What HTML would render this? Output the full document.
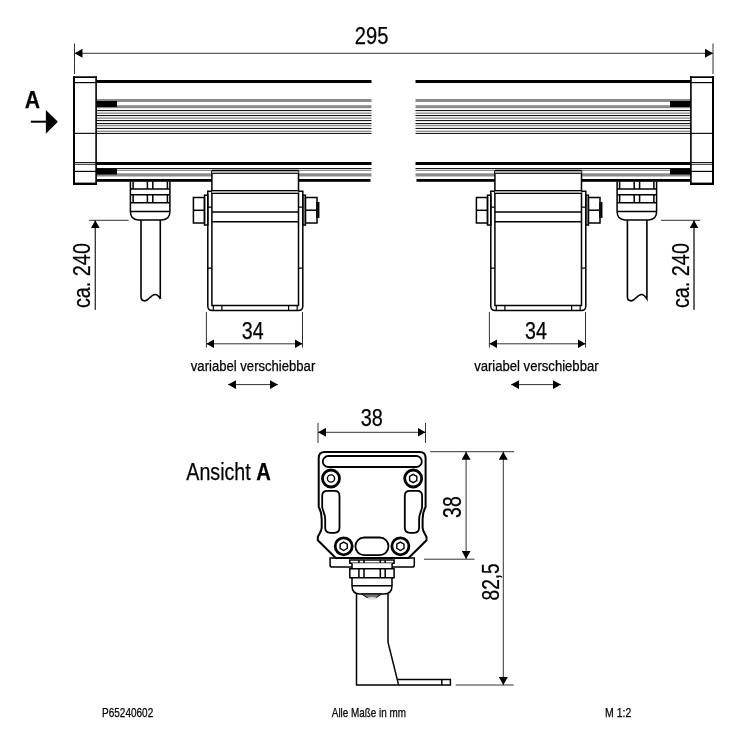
<!DOCTYPE html>
<html><head><meta charset="utf-8">
<style>
html,body{margin:0;padding:0;background:#fff;}
svg{display:block;will-change:transform;}
text{font-family:"Liberation Sans",sans-serif;fill:#000;stroke:#000;stroke-width:0.25px;}
</style></head>
<body>
<svg width="737" height="737" viewBox="0 0 737 737">
<defs>
<g id="halfrail">
  <!-- rail left half -->
  <rect x="96" y="80" width="275.5" height="3" fill="#000"/>
  <rect x="96" y="99" width="275.5" height="3" fill="#8a8a8a"/>
  <rect x="96" y="105.2" width="275.5" height="3" fill="#8a8a8a"/>
  <g fill="#1a1a1a">
    <rect x="96" y="110" width="275.5" height="1.1"/>
    <rect x="96" y="115" width="275.5" height="1.1"/>
    <rect x="96" y="120" width="275.5" height="1.1"/>
    <rect x="96" y="123" width="275.5" height="1.1"/>
    <rect x="96" y="127.9" width="275.5" height="1.1"/>
    <rect x="96" y="132.9" width="275.5" height="1.1"/>
  </g>
  <g fill="#8f8f8f">
    <rect x="96" y="112.5" width="275.5" height="1.4"/>
    <rect x="96" y="117.5" width="275.5" height="1.4"/>
    <rect x="96" y="124.9" width="275.5" height="1.4"/>
    <rect x="96" y="130.6" width="275.5" height="1.4"/>
  </g>
  <rect x="96" y="162" width="275.5" height="3" fill="#000"/>
  <rect x="96" y="168" width="275.5" height="1.1" fill="#1a1a1a"/>
  <rect x="96" y="169.9" width="275.5" height="1.1" fill="#8f8f8f"/>
  <rect x="96" y="173.3" width="275.5" height="3.2" fill="#8a8a8a"/>
  <rect x="96" y="179" width="274.5" height="2.8" fill="#000"/>
  <rect x="96" y="101" width="21" height="6" fill="#000"/>
  <rect x="96" y="168.5" width="21" height="6" fill="#000"/>
  <!-- endcap -->
  <g fill="#000">
    <rect x="73" y="76.3" width="2" height="108.7"/>
    <rect x="73" y="76.3" width="24" height="1.7"/>
    <rect x="95.3" y="76.3" width="1.6" height="108.7"/>
    <rect x="73" y="182.6" width="24" height="2.4"/>
    <rect x="73" y="82" width="24" height="1.2"/>
    <rect x="73" y="132.8" width="24" height="1.1"/>
    <rect x="73" y="162" width="24" height="0.9"/>
    <rect x="73" y="163.8" width="24" height="0.9"/>
    <rect x="73" y="170.8" width="24" height="1.2"/>
  </g>
  <!-- cable gland -->
  <g fill="none" stroke="#000" stroke-width="1.5">
    <path d="M130.4,181.5 V211.6 Q130.4,219.9 138.4,219.9 H161.9 Q169.9,219.9 169.9,211.6 V181.5"/>
    <path d="M133.1,181.5 V188.9 M133.1,194.7 V202.8 M167.4,181.5 V188.9 M167.4,194.7 V202.8 M147.4,181.5 V188.9 M152.8,181.5 V188.9 M147.4,194.7 V202.8 M152.8,194.7 V202.8"/>
    <path d="M130.4,188.9 H169.9 M130.4,194.7 H169.9 M130.4,202.8 H169.9 M130.4,211.6 H169.9"/>
  </g>
</g>
<g id="bracket" fill="none" stroke="#000" stroke-width="1.5">
  <rect x="193.4" y="197.5" width="11.1" height="25.5"/>
  <path d="M193.4,210.3 H204.5"/>
  <rect x="204.5" y="195.2" width="3.3" height="29.8"/>
  <rect x="302.8" y="195.2" width="2.6" height="29.8"/>
  <rect x="305.4" y="197.5" width="11.6" height="25.5"/>
  <path d="M305.4,210.2 H317"/>
  <rect x="317" y="202.7" width="1.7" height="14.5"/>
  <rect x="211.9" y="170.6" width="86.6" height="20" fill="#fff" stroke="none"/>
  <path d="M211.9,170.6 H298.5 M211.9,170.6 V305.6 H298.5 V170.6"/>
  <path d="M211.9,173.4 H298.5" stroke-width="1.1"/>
  <rect x="212" y="171.2" width="86.5" height="2" fill="#aaa" stroke="none"/>
  <path d="M211.9,190.5 H298.5 M211.9,193.4 H298.5" stroke-width="1.1"/>
  <rect x="212" y="191" width="86.5" height="2" fill="#aaa" stroke="none"/>
  <path d="M211.9,211.9 H298.5 M211.9,221.7 H298.5"/>
  <path d="M211.9,191.3 H207.8 V306 Q207.8,310.6 212.4,310.6 H298.2 Q302.8,310.6 302.8,306 V191.3 H298.5"/>
  <path d="M207.8,207.2 H211.9 M207.8,268.2 H211.9 M298.5,207.2 H302.8 M298.5,268.2 H302.8 M221.9,305.6 V310.8 M288.6,305.6 V310.8 M213.3,305.6 V310.8 M297.2,305.6 V310.8" stroke-width="1.2"/>
</g>
<marker id="ah" viewBox="0 0 8 9" refX="8" refY="4.5" markerWidth="8" markerHeight="9" orient="auto-start-reverse" markerUnits="userSpaceOnUse">
  <path d="M0,0 L8,4.5 L0,9 Z" fill="#000"/>
</marker>
</defs>

<!-- overall dim 295 -->
<g stroke="#333" stroke-width="1" fill="none">
  <path d="M74.5,43.5 V74 M713,43.5 V74"/>
  <path d="M74.5,53.3 H713" marker-start="url(#ah)" marker-end="url(#ah)"/>
</g>
<text x="371.58" y="43.86" font-size="23.94" text-anchor="middle" textLength="33.58" lengthAdjust="spacingAndGlyphs">295</text>

<!-- arrow A -->
<text x="24.67" y="107.7" font-size="24.2" font-weight="bold" textLength="15.31" lengthAdjust="spacingAndGlyphs">A</text>
<rect x="30.9" y="120.7" width="15.5" height="2" fill="#000"/>
<path d="M45.9,110.1 L57.9,121.8 L45.9,133.7 Z" fill="#000"/>

<use href="#halfrail"/>
<use href="#halfrail" transform="translate(787,0) scale(-1,1)"/>

<!-- cables -->
<g fill="none" stroke="#000" stroke-width="1.6">
  <path d="M141,219.9 V296.5 Q141,300.9 145,300.9 C148.6,300.7 151.1,294.5 155,294.5 C157.6,294.5 159.1,296.5 160.3,298.8 V219.9"/>
  <path d="M627.4,219.9 V296.5 Q627.4,300.9 631.4,300.9 C635,300.7 637.5,294.5 641.4,294.5 C644,294.5 645.5,296.5 646.9,298.8 V219.9"/>
</g>

<!-- ca. 240 dims -->
<g stroke="#333" stroke-width="1" fill="none">
  <path d="M89,220.3 H128.5 M95.3,220.3 V309.8" />
  <path d="M95.3,309.8 V220.3" marker-end="url(#ah)"/>
  <path d="M661,220.3 H700 M694,220.3 V309.8"/>
  <path d="M694,309.8 V220.3" marker-end="url(#ah)"/>
</g>
<text transform="translate(89.85,275.6) rotate(-90)" font-size="24.79" text-anchor="middle" textLength="64.99" lengthAdjust="spacingAndGlyphs">ca. 240</text>
<text transform="translate(688.85,275.6) rotate(-90)" font-size="24.79" text-anchor="middle" textLength="64.99" lengthAdjust="spacingAndGlyphs">ca. 240</text>

<!-- brackets -->
<use href="#bracket"/>
<use href="#bracket" transform="translate(283,0)"/>

<!-- 34 dims -->
<g stroke="#333" stroke-width="1" fill="none">
  <path d="M206.4,312 V347.5 M302.5,312 V347.5"/>
  <path d="M206.4,343.8 H302.5" marker-start="url(#ah)" marker-end="url(#ah)"/>
  <path d="M489.4,312 V347.5 M585.5,312 V347.5"/>
  <path d="M489.4,343.8 H585.5" marker-start="url(#ah)" marker-end="url(#ah)"/>
  <path d="M228.1,384.6 H277.9" marker-start="url(#ah)" marker-end="url(#ah)"/>
  <path d="M511.1,384.6 H560.9" marker-start="url(#ah)" marker-end="url(#ah)"/>
</g>
<text x="252.72" y="338.66" font-size="24.08" text-anchor="middle" textLength="21.82" lengthAdjust="spacingAndGlyphs">34</text>
<text x="536.02" y="338.66" font-size="24.08" text-anchor="middle" textLength="21.82" lengthAdjust="spacingAndGlyphs">34</text>
<text x="190.83" y="370.56" font-size="14.29" textLength="124.43" lengthAdjust="spacingAndGlyphs">variabel verschiebbar</text>
<text x="474.13" y="370.56" font-size="14.29" textLength="124.43" lengthAdjust="spacingAndGlyphs">variabel verschiebbar</text>

<!-- Ansicht A -->
<text x="186.3" y="479.6" font-size="23.5" textLength="64.48" lengthAdjust="spacingAndGlyphs">Ansicht</text>
<text x="256.2" y="479.7" font-size="24.3" font-weight="bold" textLength="14.55" lengthAdjust="spacingAndGlyphs">A</text>

<!-- view A dims -->
<g stroke="#333" stroke-width="1" fill="none">
  <path d="M318,423 V443 M425.5,423 V443"/>
  <path d="M318,432.3 H425.5" marker-start="url(#ah)" marker-end="url(#ah)"/>
  <path d="M430.1,451.7 H514.1 M424,559.2 H474.5 M455.7,685 H513.7"/>
  <path d="M466.1,451.7 V558.9" marker-start="url(#ah)" marker-end="url(#ah)"/>
  <path d="M503.3,451.7 V685" marker-start="url(#ah)" marker-end="url(#ah)"/>
</g>
<text x="371.87" y="426.46" font-size="23.66" text-anchor="middle" textLength="22.14" lengthAdjust="spacingAndGlyphs">38</text>
<text transform="translate(460.75,507.12) rotate(-90)" font-size="25.07" text-anchor="middle" textLength="21.6" lengthAdjust="spacingAndGlyphs">38</text>
<text transform="translate(498.85,581.91) rotate(-90)" font-size="24.79" text-anchor="middle" textLength="37.15" lengthAdjust="spacingAndGlyphs">82,5</text>

<!-- view A plate -->
<g fill="none" stroke="#000">
  <path stroke-width="2" d="M324.7,451.9 H419.6 Q425.6,451.9 425.6,457.9 V506.9 C423.8,510 422.6,514 422.6,519 V527.7 C422.6,531 425.3,534 426.5,537 V540.3 L408.6,557.9 H335.7 L317.8,540.3 V537 C319,534 321.7,531 321.7,527.7 V519 C321.7,514 320.5,510 318.7,506.9 V457.9 Q318.7,451.9 324.7,451.9 Z"/>
  <rect stroke-width="1.8" x="322.8" y="456" width="99" height="11" rx="5.5"/>
  <path stroke-width="1.8" d="M327.2,490.9 H334.5 Q339.5,490.9 339.5,495.9 V527.8 Q339.5,532.8 334.5,532.8 H330.2 Q325.2,532.8 325.2,527.8 V519 C325.2,514 322.2,510 322.2,506.4 V495.9 Q322.2,490.9 327.2,490.9 Z"/>
  <path stroke-width="1.8" d="M417.1,490.9 H409.8 Q404.8,490.9 404.8,495.9 V527.8 Q404.8,532.8 409.8,532.8 H414.1 Q419.1,532.8 419.1,527.8 V519 C419.1,514 422.1,510 422.1,506.4 V495.9 Q422.1,490.9 417.1,490.9 Z"/>
  <rect stroke-width="1.8" x="355.4" y="537.5" width="33.1" height="17.6" rx="8.8"/>
  <g stroke-width="2.8">
    <circle cx="331" cy="478.5" r="8.5"/>
    <circle cx="413.2" cy="478.5" r="8.5"/>
    <circle cx="343.7" cy="546.3" r="8.5"/>
    <circle cx="400.4" cy="546.3" r="8.5"/>
  </g>
  <g stroke-width="1.4">
    <circle cx="331" cy="478.5" r="3.6"/>
    <path d="M413.2,474.3 L416.8,476.4 V480.6 L413.2,482.7 L409.6,480.6 V476.4 Z"/>
    <path d="M343.7,542.1 L347.3,544.2 V548.4 L343.7,550.5 L340.1,548.4 V544.2 Z"/>
    <path d="M400.4,542.1 L404,544.2 V548.4 L400.4,550.5 L396.8,548.4 V544.2 Z"/>
  </g>
  <!-- foot -->
  <path stroke-width="1.5" d="M330.1,557.9 V565 Q330.1,567.1 332.2,567.1 H412.3 Q414.3,567.1 414.3,565 V557.9 Z"/>
  <!-- gland -->
  <g stroke-width="1.5">
    <path d="M349.8,560.1 H394.1 V563.2 H349.8 Z" fill="#fff"/>
    <path d="M358.9,560.1 V563.2 M364,560.1 V563.2 M380.3,560.1 V563.2 M385.2,560.1 V563.2"/>
    <rect x="352" y="563.2" width="40.1" height="5.5" fill="#fff" stroke="none"/>
    <path d="M352,563.2 V568.7 M392.1,563.2 V568.7"/>
    <path d="M349.8,568.7 H394.1 V577.7 H349.8 Z" fill="#fff"/>
    <path d="M358.9,568.7 V577.7 M364,568.7 V577.7 M380.3,568.7 V577.7 M385.2,568.7 V577.7"/>
    <path d="M352,577.7 V586 Q352,594 360,594 H384 Q392,594 392,586 V577.7 M352,585.8 H392"/>
    <path d="M361.6,594 Q372,603 381.5,594 Z" fill="#777" stroke-width="1"/>
    <ellipse cx="372" cy="598.3" rx="5" ry="1.3" fill="#ddd" stroke="none"/>
    <path d="M356.5,594 V684.9 H398.6 L388,642.1 V594"/>
    <path d="M397.4,679.5 H450.4 V684.9 H398.6 M441.8,679.5 V684.9"/>
  </g>
</g>

<!-- footer -->
<text x="102.1" y="716.57" font-size="12.96" textLength="51.11" lengthAdjust="spacingAndGlyphs">P65240602</text>
<text x="331.85" y="716.58" font-size="11.97" textLength="74.01" lengthAdjust="spacingAndGlyphs">Alle Maße in mm</text>
<text x="605.06" y="716.8" font-size="13.14" textLength="26.17" lengthAdjust="spacingAndGlyphs">M 1:2</text>
</svg>
</body></html>
